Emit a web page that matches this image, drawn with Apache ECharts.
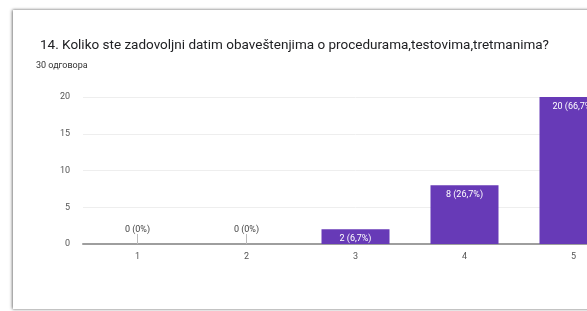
<!DOCTYPE html>
<html>
<head>
<meta charset="utf-8">
<script src="https://cdn.jsdelivr.net/npm/echarts@6/dist/echarts.min.js"></script>
<style>
    html, body { margin: 0; padding: 0; background: #fff; overflow: hidden; }
    #card {
        position: absolute; left: 13px; top: 10px; width: 640px; height: 299px;
        background: #fff; box-shadow: -1px 0 3px rgba(0,0,0,0.45), 0 -1px 2px rgba(0,0,0,0.12), 0 1px 2px rgba(0,0,0,0.1);
    }
    #chart { position: absolute; left: 0; top: 0; width: 680px; height: 311px; }
</style>
</head>
<body>
<div id="card"></div>
<div id="chart"></div>
<script>
var categories = ['1', '2', '3', '4', '5'];
var counts = [0, 0, 2, 8, 20];
var percents = ['0', '0', '6,7', '26,7', '66,7'];
var yTicks = [0, 5, 10, 15, 20];

var myChart = echarts.init(document.getElementById('chart'));

var barData = [];
for (var i = 0; i < counts.length; i++) {
    barData.push({
        value: counts[i],
        label: counts[i] === 0
            ? { position: 'top', distance: 10, color: '#444' }
            : { position: 'insideTop', distance: 5, color: '#fff' }
    });
}

var option = {
    animation: false,
    title: [
        {
            text: '14. Koliko ste zadovoljni datim obaveštenjima o procedurama,testovima,tretmanima?',
            left: 35,
            top: 34,
            textStyle: { fontFamily: 'Roboto', fontSize: 13.5, fontWeight: 'normal', color: '#202124' }
        },
        {
            text: '30 одговора',
            left: 31,
            top: 56,
            textStyle: { fontFamily: 'Roboto', fontSize: 9, fontWeight: 'normal', color: '#333' }
        }
    ],
    grid: { left: 83, top: 97, width: 545, height: 147 },
    xAxis: {
        type: 'category',
        data: categories,
        axisLine: { lineStyle: { color: '#9e9e9e', width: 2 } },
        axisTick: { show: true, alignWithLabel: true, inside: true, length: 10, lineStyle: { color: '#bbb' } },
        axisLabel: { fontFamily: 'Roboto', fontSize: 9, color: '#555', margin: 8 }
    },
    yAxis: {
        type: 'value',
        min: yTicks[0],
        max: yTicks[yTicks.length - 1],
        interval: 5,
        axisLine: { show: false },
        axisTick: { show: false },
        axisLabel: { fontFamily: 'Roboto', fontSize: 9, color: '#555', margin: 13 },
        splitLine: { lineStyle: { color: '#eeeeee' } }
    },
    series: [
        {
            type: 'bar',
            barWidth: 68,
            itemStyle: { color: '#673ab7' },
            label: {
                show: true,
                fontFamily: 'Roboto',
                fontSize: 9,
                formatter: function (p) {
                    return counts[p.dataIndex] + ' (' + percents[p.dataIndex] + '%)';
                }
            },
            data: barData
        }
    ]
};
myChart.setOption(option);
</script>
</body>
</html>
